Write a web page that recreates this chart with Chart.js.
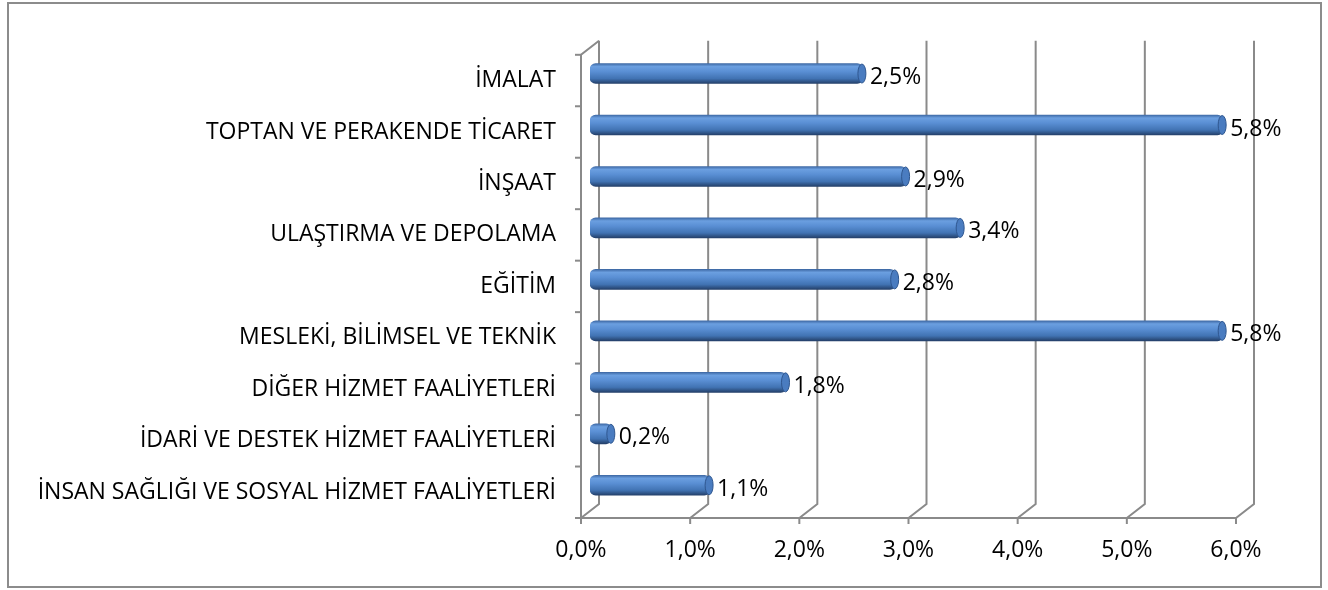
<!DOCTYPE html>
<html>
<head>
<meta charset="utf-8">
<script src="https://cdn.jsdelivr.net/npm/chart.js@4.4.0/dist/chart.umd.min.js"></script>
<style>
    html, body { margin: 0; padding: 0; background: #fff; }
    #wrap { width: 1328px; height: 590px; }
</style>
</head>
<body>
<div id="wrap"><canvas id="sectorChart" width="1328" height="590"></canvas></div>
<script>
    "use strict";

    // chart values
    const sectors = [
        'İMALAT',
        'TOPTAN VE PERAKENDE TİCARET',
        'İNŞAAT',
        'ULAŞTIRMA VE DEPOLAMA',
        'EĞİTİM',
        'MESLEKİ, BİLİMSEL VE TEKNİK',
        'DİĞER HİZMET FAALİYETLERİ',
        'İDARİ VE DESTEK HİZMET FAALİYETLERİ',
        'İNSAN SAĞLIĞI VE SOSYAL HİZMET FAALİYETLERİ'
    ];
    const shares = [2.5, 5.8, 2.9, 3.4, 2.8, 5.8, 1.8, 0.2, 1.1];
    const axisTicks = [0, 1, 2, 3, 4, 5, 6];

    // depth of the fake 3d box (half depth to front / back)
    const DX = 9, DY = 7;
    const GRID = '#8a8a8a';
    const FAMILY = '"Open Sans"';
    const FONT_SIZE = 23;
    const FONT = FONT_SIZE + 'px ' + FAMILY;

    function fmt(v) {
        return v.toFixed(1).replace('.', ',') + '%';
    }

    // cylinder shading, built per bar from the y scale
    function barFill(context) {
        const chart = context.chart;
        if (!chart.chartArea || !chart.scales.y) return '#4f81bd';
        const cy = chart.scales.y.getPixelForValue(context.dataIndex);
        const g = chart.ctx.createLinearGradient(0, cy - 10, 0, cy + 10);
        g.addColorStop(0, '#3f6aa6');
        g.addColorStop(0.15, '#6b9fe0');
        g.addColorStop(0.4, '#5a8fd4');
        g.addColorStop(0.75, '#4173b3');
        g.addColorStop(1, '#24406a');
        return g;
    }

    // walls, floor and gridlines
    const boxPlugin = {
        id: 'box',
        beforeDatasetsDraw(chart) {
            const ctx = chart.ctx;
            const x = chart.scales.x;
            const top = chart.chartArea.top, bottom = chart.chartArea.bottom;
            ctx.save();
            // outer border
            ctx.strokeStyle = '#8c8c8c';
            ctx.lineWidth = 2;
            ctx.strokeRect(8, 3, 1313, 584);

            ctx.strokeStyle = GRID;
            ctx.lineWidth = 2;
            axisTicks.forEach(t => {
                const px = x.getPixelForValue(t);
                ctx.beginPath();
                ctx.moveTo(px + DX, top - DY);
                ctx.lineTo(px + DX, bottom - DY);
                ctx.lineTo(px - DX, bottom + DY);
                ctx.stroke();
                // tick below the floor
                ctx.beginPath();
                ctx.moveTo(px - DX, bottom + DY);
                ctx.lineTo(px - DX, bottom + DY + 6);
                ctx.stroke();
            });
            const x0 = x.getPixelForValue(0);
            // left wall front edge and floor front edge
            ctx.beginPath();
            ctx.moveTo(x0 + DX, top - DY);
            ctx.lineTo(x0 - DX, top + DY);
            ctx.lineTo(x0 - DX, bottom + DY);
            ctx.lineTo(x.getPixelForValue(6) - DX, bottom + DY);
            ctx.stroke();
            // category ticks
            const step = (bottom - top) / sectors.length;
            for (let i = 0; i <= sectors.length; i++) {
                const py = top + DY + i * step;
                ctx.beginPath();
                ctx.moveTo(x0 - DX - 6, py);
                ctx.lineTo(x0 - DX, py);
                ctx.stroke();
            }
            ctx.restore();
        },
        afterDatasetsDraw(chart) {
            const ctx = chart.ctx;
            const meta = chart.getDatasetMeta(0);
            ctx.save();
            meta.data.forEach((el, i) => {
                const h = el.height;
                // end cap
                ctx.beginPath();
                ctx.ellipse(el.x - 1, el.y, 4, h / 2 - 0.5, 0, 0, Math.PI * 2);
                ctx.fillStyle = '#4a7cc0';
                ctx.fill();
                ctx.strokeStyle = '#2f5790';
                ctx.lineWidth = 1;
                ctx.stroke();
                // value label
                ctx.fillStyle = '#000';
                ctx.font = FONT;
                ctx.textAlign = 'left';
                ctx.textBaseline = 'middle';
                ctx.fillText(fmt(shares[i]), el.x + 7, el.y + 4);
            });
            ctx.restore();
        }
    };

    new Chart(document.getElementById('sectorChart'), {
        type: 'bar',
        data: {
            labels: sectors,
            datasets: [{
                data: shares,
                backgroundColor: barFill,
                borderWidth: 0,
                borderRadius: 6,
                borderSkipped: false,
                barThickness: 20
            }]
        },
        options: {
            indexAxis: 'y',
            responsive: false,
            animation: false,
            layout: { padding: { top: 45, right: 83, bottom: 0, left: 0 } },
            plugins: {
                legend: { display: false },
                tooltip: { enabled: false }
            },
            scales: {
                x: {
                    min: 0,
                    max: 6,
                    afterFit: s => { s.height = 79; },
                    grid: { display: false, drawTicks: false },
                    border: { display: false },
                    ticks: {
                        stepSize: 1,
                        padding: 26,
                        labelOffset: -DX,
                        color: '#000',
                        font: { family: 'Open Sans', size: FONT_SIZE },
                        callback: v => fmt(v)
                    }
                },
                y: {
                    afterFit: s => { s.width = 590; },
                    grid: { display: false, drawTicks: false },
                    border: { display: false },
                    ticks: {
                        padding: 34,
                        labelOffset: DY,
                        autoSkip: false,
                        color: '#000',
                        font: { family: 'Open Sans', size: FONT_SIZE }
                    }
                }
            }
        },
        plugins: [boxPlugin]
    });
</script>
</body>
</html>
